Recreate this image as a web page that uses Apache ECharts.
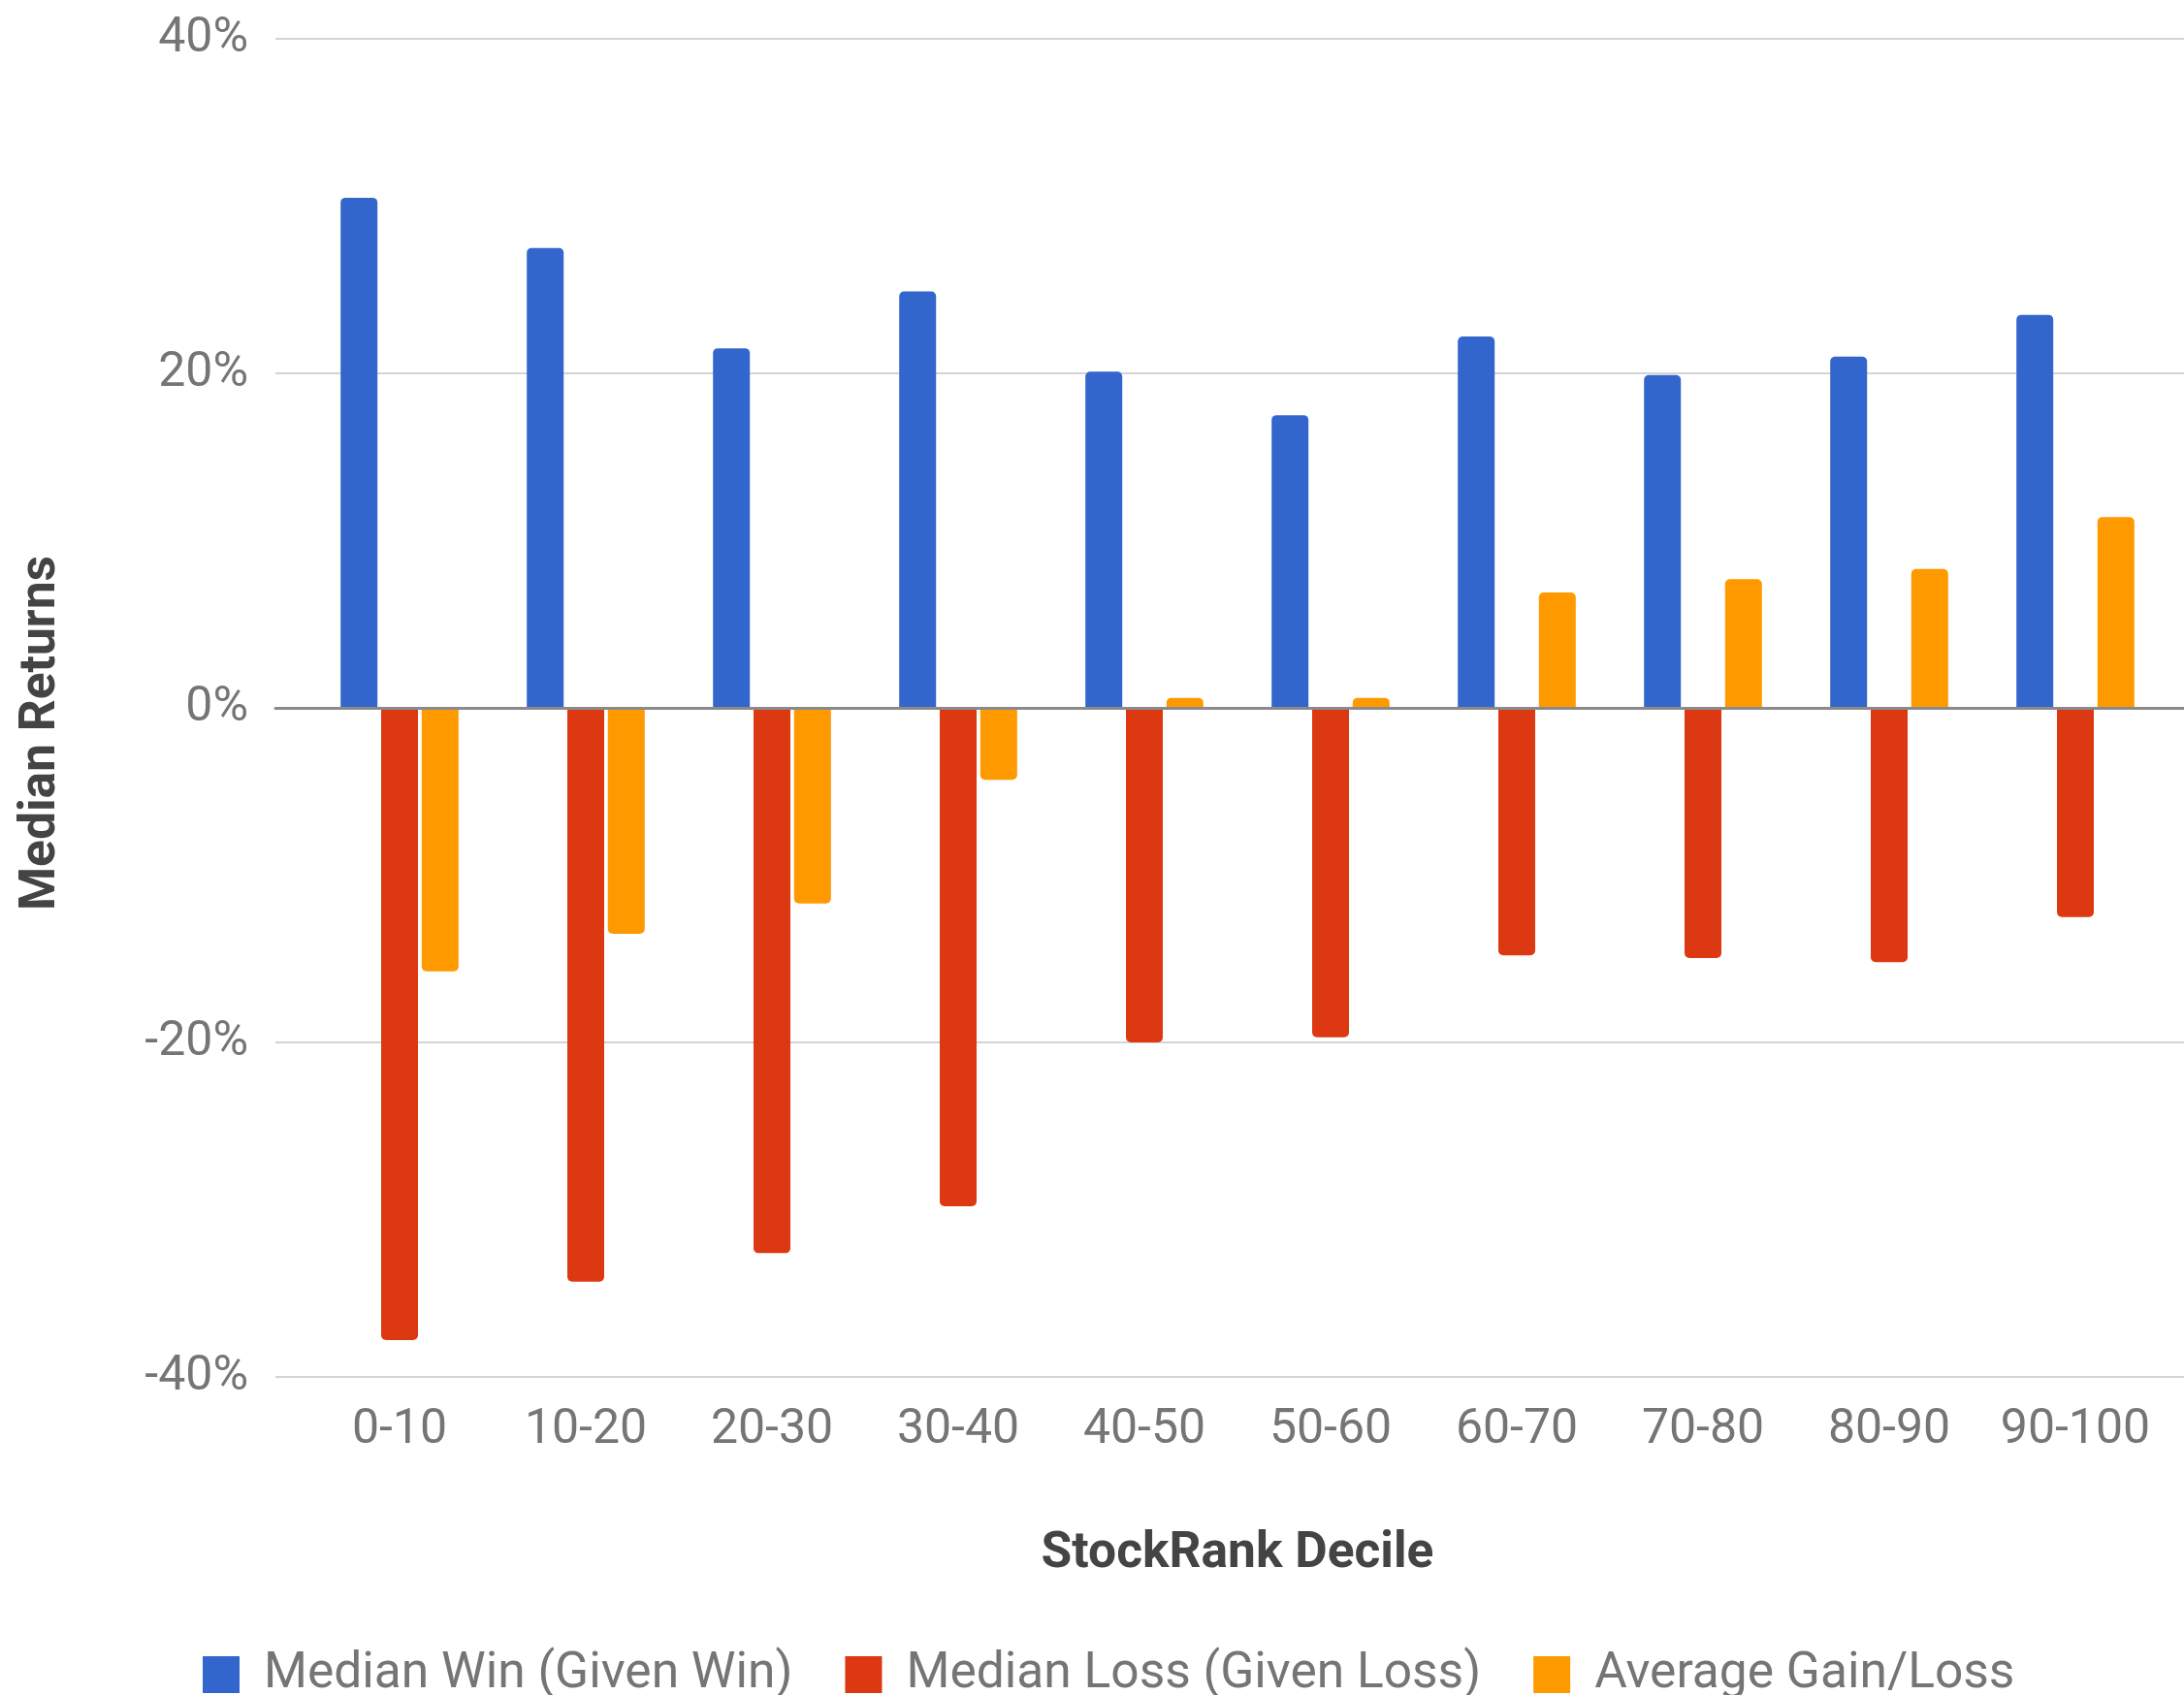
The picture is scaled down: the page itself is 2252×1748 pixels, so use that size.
<!DOCTYPE html>
<html>
<head>
<meta charset="utf-8">
<script src="https://cdn.jsdelivr.net/npm/echarts@6/dist/echarts.min.js"></script>
<style>
  html, body { margin: 0; padding: 0; background: #ffffff; }
  #chart { width: 2252px; height: 1748px; }
</style>
</head>
<body>
<div id="chart"></div>
<script>
// StockRank deciles and the return statistics per decile (in percent)
const deciles = ['0-10', '10-20', '20-30', '30-40', '40-50', '50-60', '60-70', '70-80', '80-90', '90-100'];
const medianWin = [30.5, 27.5, 21.5, 24.9, 20.1, 17.5, 22.2, 19.9, 21.0, 23.5];
const medianLoss = [-37.8, -34.3, -32.6, -29.8, -20.0, -19.7, -14.8, -14.95, -15.2, -12.5];
const avgGainLoss = [-15.75, -13.5, -11.7, -4.3, 0.6, 0.6, 6.9, 7.7, 8.3, 11.4];
const yTicks = [-40, -20, 0, 20, 40];

const seriesNames = ['Median Win (Given Win)', 'Median Loss (Given Loss)', 'Average Gain/Loss'];
const seriesColors = ['#3366cc', '#dc3912', '#ff9900'];

const FONT = 'Roboto, "Noto Sans", sans-serif';
const yMin = yTicks[0], yMax = yTicks[yTicks.length - 1], yStep = yTicks[1] - yTicks[0];

// rounded ends on the outer end of each bar
function withRoundedEnds(values) {
  return values.map(v => ({
    value: v,
    itemStyle: { borderRadius: v >= 0 ? [5, 5, 0, 0] : [0, 0, 5, 5] }
  }));
}

const chart = echarts.init(document.getElementById('chart'), null, { renderer: 'canvas' });

chart.setOption({
  backgroundColor: '#ffffff',
  animation: false,
  textStyle: { fontFamily: FONT },
  grid: [
    // full-width frame carrying the value axis, gridlines and baseline
    { left: 284, right: 0, top: 40, height: 1380, containLabel: false },
    // band area holding the bar groups
    { left: 316, right: 16, top: 40, height: 1380, containLabel: false }
  ],
  xAxis: [
    {
      gridIndex: 0, type: 'value', min: 0, max: 1,
      axisLabel: { show: false }, axisTick: { show: false }, splitLine: { show: false },
      axisLine: { show: true, onZero: true, lineStyle: { color: '#8a8a8a', width: 3 } },
      z: 10
    },
    {
      gridIndex: 1, type: 'category', data: deciles,
      axisLine: { show: false }, axisTick: { show: false },
      axisLabel: { interval: 0, fontSize: 50, color: '#757575', margin: 30, fontFamily: FONT },
      name: 'StockRank Decile', nameLocation: 'middle', nameGap: 157,
      nameTextStyle: { fontSize: 51.5, fontWeight: 'bold', color: '#444444', fontFamily: FONT }
    }
  ],
  yAxis: [
    {
      gridIndex: 0, type: 'value', min: yMin, max: yMax, interval: yStep,
      axisLine: { show: false }, axisTick: { show: false },
      axisLabel: { fontSize: 50, color: '#757575', margin: 28, formatter: '{value}%', fontFamily: FONT },
      splitLine: { show: true, lineStyle: { color: '#d4d4d4', width: 2 } },
      name: 'Median Returns', nameLocation: 'middle', nameGap: 215, nameRotate: 90,
      nameTextStyle: { fontSize: 51.5, fontWeight: 'bold', color: '#444444', fontFamily: FONT, padding: [0, 52, 0, 0] }
    },
    {
      gridIndex: 1, type: 'value', min: yMin, max: yMax, interval: yStep,
      show: false, splitLine: { show: false }
    }
  ],
  legend: {
    left: 204, top: 1696,
    itemWidth: 38, itemHeight: 38, itemGap: 54,
    icon: 'rect',
    textStyle: { fontSize: 51.5, color: '#757575', fontFamily: FONT, padding: [0, 0, 0, 20] },
    data: seriesNames
  },
  series: [
    {
      name: seriesNames[0], type: 'bar', xAxisIndex: 1, yAxisIndex: 1,
      barWidth: 38, barGap: '10%',
      itemStyle: { color: seriesColors[0] },
      data: withRoundedEnds(medianWin)
    },
    {
      name: seriesNames[1], type: 'bar', xAxisIndex: 1, yAxisIndex: 1,
      barWidth: 38, barGap: '10%',
      itemStyle: { color: seriesColors[1] },
      data: withRoundedEnds(medianLoss)
    },
    {
      name: seriesNames[2], type: 'bar', xAxisIndex: 1, yAxisIndex: 1,
      barWidth: 38, barGap: '10%',
      itemStyle: { color: seriesColors[2] },
      data: withRoundedEnds(avgGainLoss)
    }
  ]
});
</script>
</body>
</html>
